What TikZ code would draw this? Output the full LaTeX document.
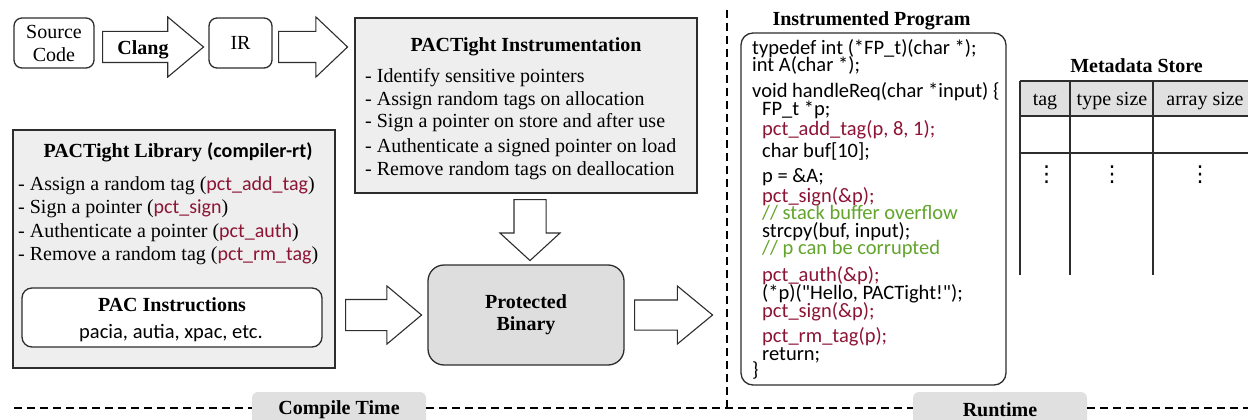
\documentclass[tikz,border=0pt]{standalone}
\usepackage{fontspec}
\setmainfont{Liberation Serif}
\newfontfamily\calfont{Carlito}
\newfontfamily\dvfont{DejaVu Sans}
\usetikzlibrary{shapes.arrows}
\definecolor{lightbox}{RGB}{238,238,238}
\definecolor{tabgray}{RGB}{224,224,224}
\definecolor{bingray}{RGB}{222,222,222}
\definecolor{pctred}{RGB}{140,20,52}
\definecolor{cgreen}{RGB}{98,164,44}
\definecolor{edgec}{RGB}{45,45,45}
\newcommand{\pct}[1]{{\calfont\color{pctred}#1}}
\newcommand{\fs}{\fontsize{20pt}{23pt}\selectfont}
\begin{document}
\begin{tikzpicture}[x=1pt,y=-1pt,
  rbox/.style={draw=edgec, line width=1.3pt, rounded corners=8pt, inner sep=0pt, align=center, font=\fs},
  sbox/.style={draw=edgec, line width=1.3pt, fill=lightbox, inner sep=0pt},
  barrow/.style={shape=single arrow, draw=edgec, line width=1.1pt, fill=white, inner xsep=0pt, minimum width=0pt, anchor=tail},
  txt/.style={font=\fs, inner sep=0pt, anchor=base west},
  ctxt/.style={font=\fs, inner sep=0pt, anchor=base},
  code/.style={font=\fontsize{20.5pt}{22pt}\calfont, inner sep=0pt, anchor=base west},
  dsh/.style={line width=1.8pt, dash pattern=on 8pt off 5pt},
  tab/.style={fill=tabgray, rounded corners=6pt, minimum width=174pt, minimum height=35pt, inner sep=0pt, font=\fs\bfseries},
  tline/.style={line width=1.3pt, draw=edgec}
]
\useasboundingbox (0,0) rectangle (1248,420);

% compile-time pipeline
\node[rbox, minimum width=80pt, minimum height=50pt] (src) at (54,43) {Source\\Code};
\node[barrow, inner ysep=15pt, single arrow head extend=14.5pt, minimum height=101pt, single arrow tip angle=80] (a1) at (102,47) {};
\node[ctxt, font=\fs\bfseries] (clang) at (143,55) {Clang};
\node[rbox, minimum width=63pt, minimum height=50pt] (ir) at (240.5,43) {IR};
\node[barrow, inner ysep=15pt, single arrow head extend=14.5pt, minimum height=69pt, single arrow tip angle=87] (a2) at (278,47) {};

% instrumentation
\node[sbox, minimum width=342pt, minimum height=175pt] (instr) at (526,105.5) {};
\node[ctxt, font=\fs\bfseries] (instrt) at (526,52) {PACTight Instrumentation};
\node[txt] (i1) at (365,82) {- Identify sensitive pointers};
\node[txt] (i2) at (365,105) {- Assign random tags on allocation};
\node[txt] (i3) at (365,128) {- Sign a pointer on store and after use};
\node[txt] (i4) at (365,152) {- Authenticate a signed pointer on load};
\node[txt] (i5) at (365,175) {- Remove random tags on deallocation};

\node[barrow, inner ysep=15.5pt, single arrow head extend=14pt, minimum height=61pt, single arrow tip angle=95, rotate=-90] (a3) at (530,199) {};

% library
\node[sbox, minimum width=322pt, minimum height=238pt] (lib) at (174,249) {};
\node[ctxt, font=\fs\bfseries] (libt) at (178,157) {PACTight Library {\calfont (compiler-rt)}};
\node[txt] (l1) at (18,190) {- Assign a random tag (\pct{pct\_add\_tag})};
\node[txt] (l2) at (18,213) {- Sign a pointer (\pct{pct\_sign})};
\node[txt] (l3) at (18,237) {- Authenticate a pointer (\pct{pct\_auth})};
\node[txt] (l4) at (18,260) {- Remove a random tag (\pct{pct\_rm\_tag})};
\node[rbox, fill=white, rounded corners=10pt, minimum width=300pt, minimum height=59pt] (pac) at (172,317.5) {};
\node[ctxt, font=\fs\bfseries] (pact) at (172,311) {PAC Instructions};
\node[ctxt, font=\fontsize{20.5pt}{22pt}\calfont] (pacs) at (171,338) {pacia, autia, xpac, etc.};

\node[barrow, inner ysep=15pt, single arrow head extend=13.5pt, minimum height=76pt, single arrow tip angle=80] (a4) at (345,315) {};
\node[rbox, fill=bingray, rounded corners=16pt, minimum width=196pt, minimum height=100pt, font=\fontsize{20pt}{22pt}\selectfont\bfseries] (bin) at (526,315) {Protected\\Binary};
\node[barrow, inner ysep=14.5pt, single arrow head extend=14pt, minimum height=78pt, single arrow tip angle=79] (a5) at (634,315) {};

% separators
\coordinate (vtop) at (727,10);
\coordinate (hleft) at (14,408);
\coordinate (hright) at (1248,408);
\node[tab] (ct) at (339,409.5) {Compile Time};
\node[tab] (rt) at (1000,409.5) {Runtime};
\draw[dsh] (vtop) -- (727,408);
\draw[dsh] (hleft) -- (ct.west |- hleft);
\draw[dsh] (ct.east |- hleft) -- (rt.west |- hleft);
\draw[dsh] (rt.east |- hleft) -- (hright);

% instrumented program
\node[ctxt, font=\fontsize{20pt}{22pt}\selectfont\bfseries] (progt) at (871.5,26) {Instrumented Program};
\node[rbox, rounded corners=12pt, minimum width=265pt, minimum height=352pt] (prog) at (873.5,209) {};
\node[code] (c1) at (752,55) {typedef int (*FP\_t)(char *);};
\node[code] (c2) at (752,72) {int A(char *);};
\node[code] (c3) at (752,97) {void handleReq(char *input) \{};
\node[code] (c4) at (762,115) {FP\_t *p;};
\node[code, text=pctred] (c5) at (762,135) {pct\_add\_tag(p, 8, 1);};
\node[code] (c6) at (762,157) {char buf[10];};
\node[code] (c7) at (762,182) {p = \&A;};
\node[code, text=pctred] (c8) at (762,202) {pct\_sign(\&p);};
\node[code, text=cgreen] (c9) at (762,219) {// stack buffer overflow};
\node[code] (c10) at (762,237) {strcpy(buf, input);};
\node[code, text=cgreen] (c11) at (762,254) {// p can be corrupted};
\node[code, text=pctred] (c12) at (762,281) {pct\_auth(\&p);};
\node[code] (c13) at (762,299) {(*p)("Hello, PACTight!");};
\node[code, text=pctred] (c14) at (762,317) {pct\_sign(\&p);};
\node[code, text=pctred] (c15) at (762,342) {pct\_rm\_tag(p);};
\node[code] (c16) at (762,360) {return;};
\node[code] (c17) at (752,376) {\}};

% metadata store
\node[ctxt, font=\fs\bfseries] (mst) at (1136.5,73) {Metadata Store};
\fill[tabgray] (1020,81) rectangle (1250,116);
\draw[tline] (1020,81) -- (1250,81);
\draw[tline] (1020,116) -- (1250,116);
\draw[tline] (1020,153) -- (1250,153);
\draw[tline] (1020,81) -- (1020,275);
\draw[tline] (1070,81) -- (1070,275);
\draw[tline] (1153,81) -- (1153,275);
\node[ctxt] (h1) at (1045,106) {tag};
\node[ctxt] (h2) at (1112,106) {type size};
\node[ctxt] (h3) at (1205,106) {array size};
\node[font=\fontsize{22pt}{24pt}\dvfont, inner sep=0pt] (d1) at (1046.5,175) {⋮};
\node[font=\fontsize{22pt}{24pt}\dvfont, inner sep=0pt] (d2) at (1112,175) {⋮};
\node[font=\fontsize{22pt}{24pt}\dvfont, inner sep=0pt] (d3) at (1200,175) {⋮};
\end{tikzpicture}
\end{document}
